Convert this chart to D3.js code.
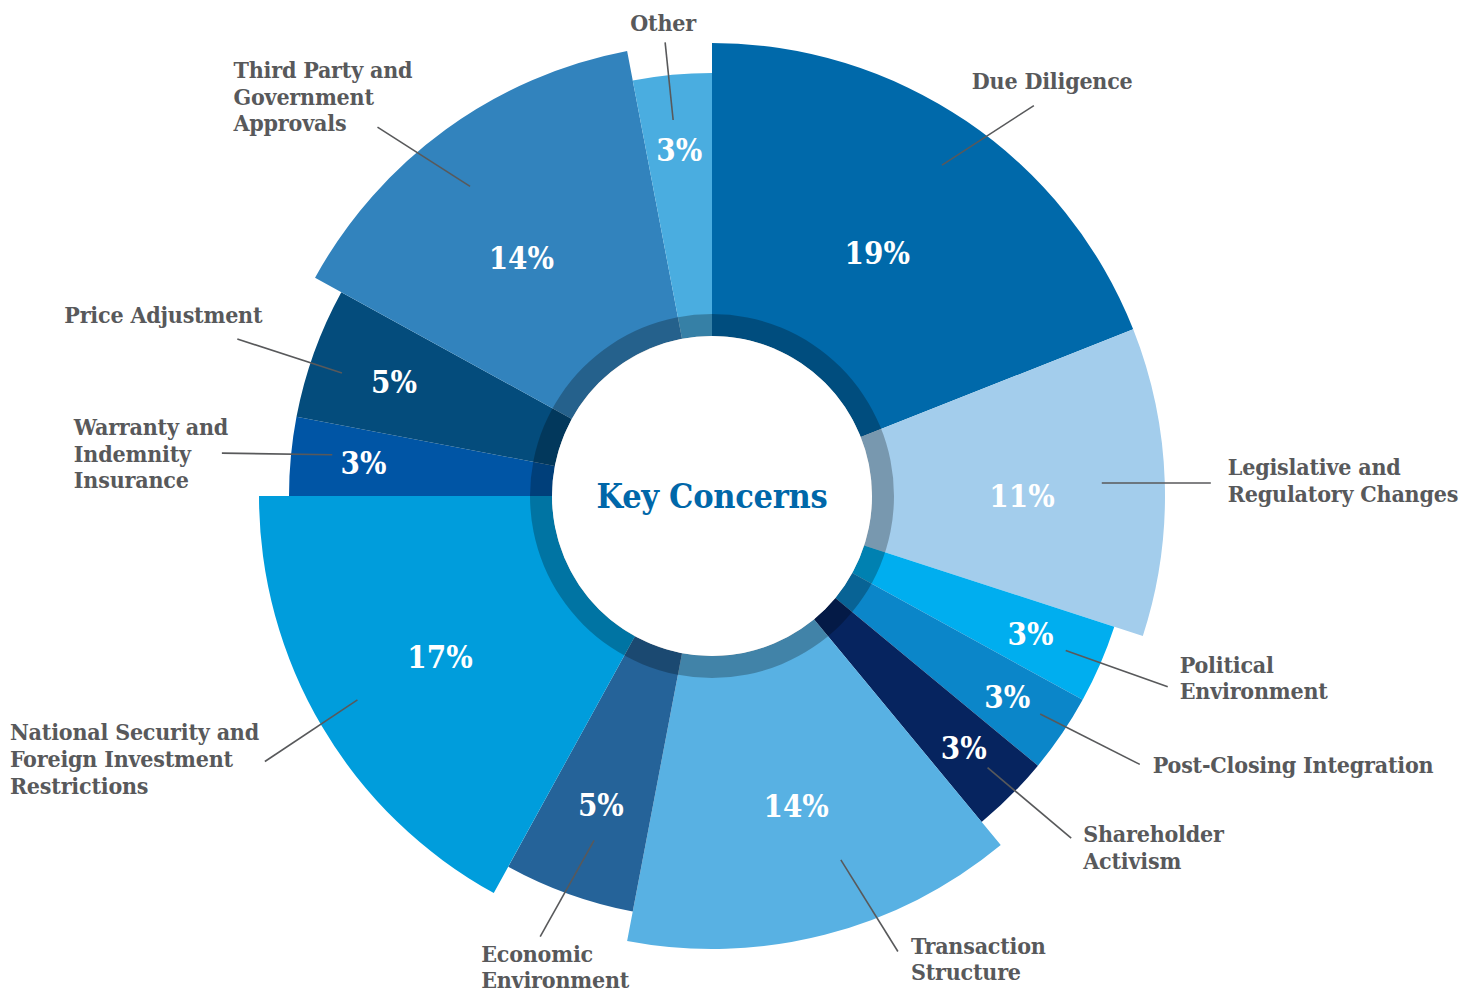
<!DOCTYPE html>
<html>
<head>
<meta charset="utf-8">
<style>
  body { margin: 0; background: #fff; }
  svg text { font-family: "DejaVu Serif Condensed", "DejaVu Serif", serif; font-weight: bold; }
</style>
</head>
<body>
<svg></svg>
<script src="https://cdn.jsdelivr.net/npm/d3@7"></script>
<script>

  // slices, clockwise from 12 o'clock
  const categories = [
    ["Due Diligence"],
    ["Legislative and", "Regulatory Changes"],
    ["Political", "Environment"],
    ["Post-Closing Integration"],
    ["Shareholder", "Activism"],
    ["Transaction", "Structure"],
    ["Economic", "Environment"],
    ["National Security and", "Foreign Investment", "Restrictions"],
    ["Warranty and", "Indemnity", "Insurance"],
    ["Price Adjustment"],
    ["Third Party and", "Government", "Approvals"],
    ["Other"]
  ]
  const shares = [19, 11, 3, 3, 3, 14, 5, 17, 3, 5, 14, 3]
  const sliceColors = ["#0069aa", "#a3cdec", "#00aeef", "#0b86c9", "#06245f", "#58b1e3",
                       "#256399", "#009ddc", "#0055a5", "#044c7c", "#3283bd", "#4aade0"]
  const title = "Key Concerns"

  const width = 1481, height = 992
  const cx = 712, cy = 496
  const innerR = 160, ringR = 182,
        bigR = 453, smallR = 423

  // label layout: leader start (angle shift in deg, radius), leader tip (angle shift, radius),
  // text offset from the tip, anchor, and position of the percentage inside the slice
  const layout = [
    {ia: 0.6,  ir: 403, da: 5.3,  r: 506, dx: -62,  dy: -17, anchor: "start",  pa: 0,    pr: 294},
    {ia: -0.1, ir: 390, da: 0.3,  r: 499, dx: 17,   dy: -8,  anchor: "start",  pa: 1.8,  pr: 310},
    {ia: 0.2,  ir: 386, da: -0.7, r: 494, dx: 12,   dy: -14, anchor: "start",  pa: 0,    pr: 347},
    {ia: -0.6, ir: 394, da: -2.1, r: 505, dx: 13,   dy: 9,   anchor: "start",  pa: 0,    pr: 357},
    {ia: -0.4, ir: 387, da: -1.4, r: 496, dx: 12,   dy: 4,   anchor: "start",  pa: 0,    pr: 356},
    {ia: -5.1, ir: 386, da: -7.8, r: 492, dx: 13,   dy: 2,   anchor: "start",  pa: -0.8, pr: 321},
    {ia: -0.9, ir: 364, da: 1.5,  r: 473, dx: -59,  dy: 25,  anchor: "start",  pa: 0,    pr: 328},
    {ia: 0.7,  ir: 409, da: -0.1, r: 520, dx: -255, dy: -21, anchor: "start",  pa: 0,    pr: 316},
    {ia: 0.8,  ir: 382, da: -0.4, r: 492, dx: -148, dy: -18, anchor: "start",  pa: 0,    pr: 350},
    {ia: -1.4, ir: 390, da: -1.5, r: 500, dx: -173, dy: -16, anchor: "start",  pa: 0,    pr: 338},
    {ia: -2.0, ir: 393, da: -6.2, r: 498, dx: -144, dy: -49, anchor: "start",  pa: -2.7, pr: 305},
    {ia: -0.5, ir: 378, da: -0.5, r: 456, dx: -2,   dy: -11, anchor: "middle", pa: 0,    pr: 348}
  ]

  const svg = d3.select("svg")
      .attr("width", width)
      .attr("height", height)

  const g = svg.append("g")
    .attr("transform", `translate(${cx}, ${cy})`)

  const pie = d3.pie().sort(null).value(d => d)
  const arcs = pie(shares)

  const arc = d3.arc()
    .innerRadius(innerR)
    .outerRadius(d => d.data >= 10 ? bigR : smallR)

  const polar = (a, r) => [Math.sin(a) * r, -Math.cos(a) * r]
  const rad = deg => deg * Math.PI / 180
  const mid = d => (d.startAngle + d.endAngle) / 2

  // slices
  g.selectAll(".slice")
    .data(arcs)
    .enter().append("path")
      .attr("class", "slice")
      .attr("fill", (d, i) => sliceColors[i])
      .attr("d", arc)

  // dark ring over the inner part
  g.append("path")
    .attr("d", d3.arc().innerRadius(innerR - 1).outerRadius(ringR)
      .startAngle(0).endAngle(2 * Math.PI)())
    .attr("fill", "#000")
    .attr("fill-opacity", 0.26)

  g.append("circle")
    .attr("r", innerR)
    .attr("fill", "#fff")

  g.append("text")
    .attr("text-anchor", "middle")
    .attr("dy", "0.35em")
    .style("font-size", "34px")
    .style("letter-spacing", "-0.3px")
    .attr("fill", "#0067a9")
    .text(title)

  // percentages
  g.selectAll(".pct")
    .data(arcs)
    .enter().append("text")
      .attr("class", "pct")
      .attr("text-anchor", "middle")
      .attr("dy", "0.36em")
      .attr("transform", (d, i) => `translate(${polar(mid(d) + rad(layout[i].pa), layout[i].pr)})`)
      .style("font-size", "31px")
      .attr("fill", "#fff")
      .text(d => d.data + "%")

  // leader lines
  const start = (d, i) => polar(mid(d) + rad(layout[i].ia), layout[i].ir)
  const tip = (d, i) => polar(mid(d) + rad(layout[i].da), layout[i].r)

  g.selectAll(".leader")
    .data(arcs)
    .enter().append("line")
      .attr("class", "leader")
      .attr("x1", (d, i) => start(d, i)[0])
      .attr("y1", (d, i) => start(d, i)[1])
      .attr("x2", (d, i) => tip(d, i)[0])
      .attr("y2", (d, i) => tip(d, i)[1])
      .attr("stroke", "#58595b")
      .attr("stroke-width", 1.6)

  // category labels
  const labels = g.selectAll(".label")
    .data(arcs)
    .enter().append("text")
      .attr("class", "label")
      .attr("text-anchor", (d, i) => layout[i].anchor)
      .attr("transform", (d, i) => {
        const p = tip(d, i)
        return `translate(${p[0] + layout[i].dx}, ${p[1] + layout[i].dy})`
      })
      .style("font-size", "23px")
      .style("letter-spacing", "-0.2px")
      .attr("fill", "#58595b")

  labels.selectAll("tspan")
    .data((d, i) => categories[i])
    .enter().append("tspan")
      .attr("x", 0)
      .attr("y", (d, j) => j * 26.6)
      .text(d => d)

</script>
</body>
</html>
